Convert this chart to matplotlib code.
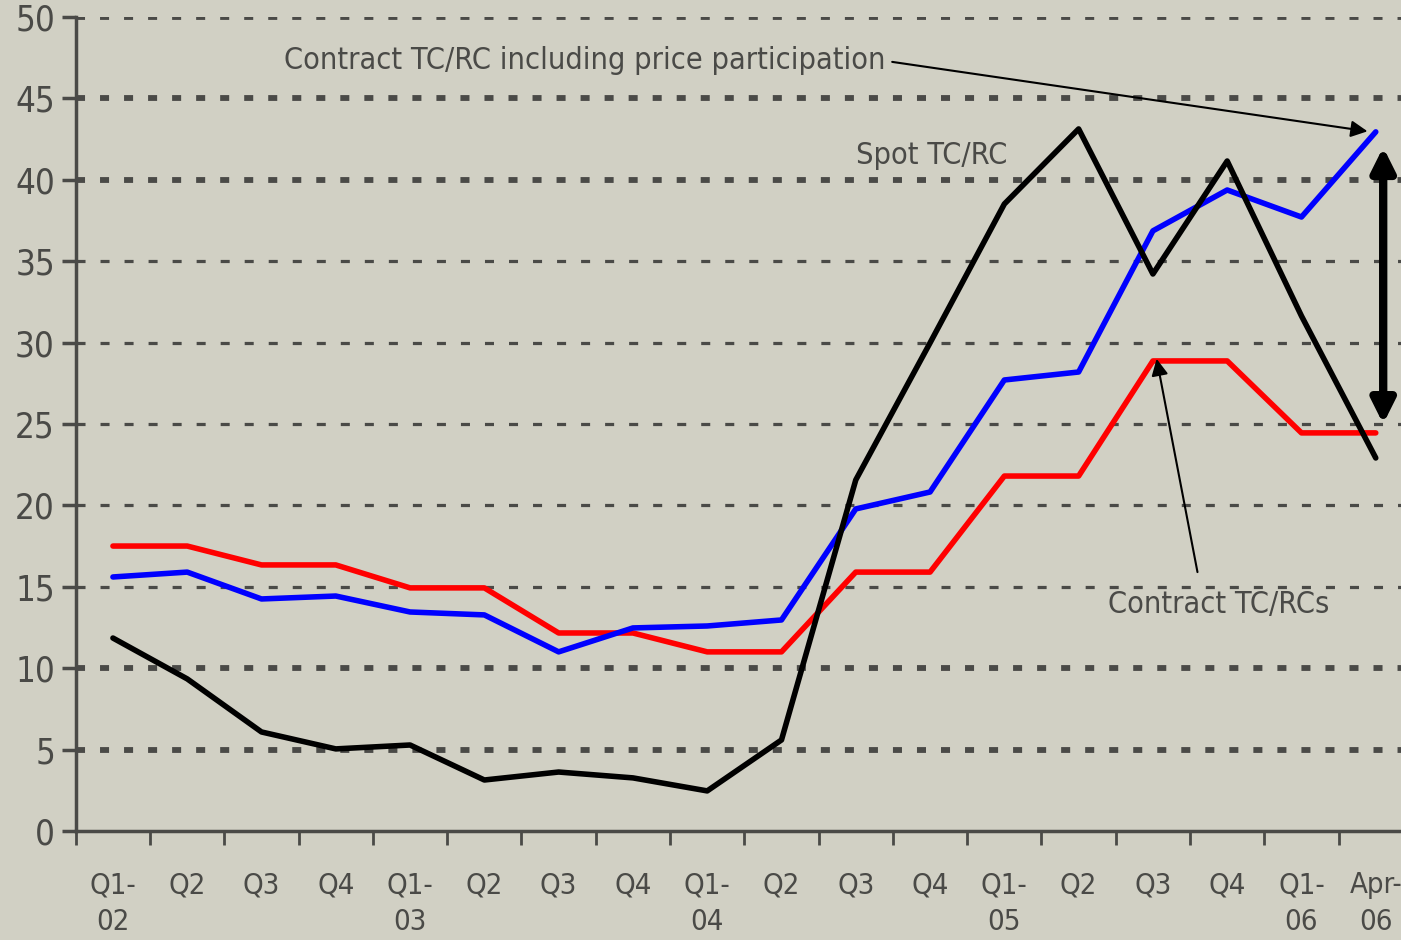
import matplotlib
matplotlib.use("Agg")
import matplotlib.pyplot as plt
from matplotlib.ticker import FixedLocator

plt.rcParams['font.family'] = ['DejaVu Sans']
plt.rcParams['font.stretch'] = 'condensed'
plt.rcParams['lines.scale_dashes'] = False

quarters = ["Q1-\n02", "Q2", "Q3", "Q4", "Q1-\n03", "Q2", "Q3", "Q4", "Q1-\n04",
            "Q2", "Q3", "Q4", "Q1-\n05", "Q2", "Q3", "Q4", "Q1-\n06", "Apr-\n06"]
spot = [11.85, 9.34, 6.08, 5.04, 5.28, 3.13, 3.62, 3.26, 2.46,
        5.59, 21.56, 29.98, 38.51, 43.12, 34.21, 41.15, 31.63, 22.91]
contract_pp = [15.6, 15.9, 14.25, 14.43, 13.45, 13.27, 11.0, 12.47, 12.59,
               12.96, 19.78, 20.82, 27.7, 28.19, 36.86, 39.37, 37.71, 42.94]
contract = [17.5, 17.5, 16.34, 16.34, 14.93, 14.93, 12.16, 12.16, 11.0,
            11.0, 15.9, 15.9, 21.8, 21.8, 28.87, 28.87, 24.45, 24.45]
dotted_levels = [5, 10, 40, 45, 50]
dashed_levels = [15, 20, 25, 30, 35]

bg = "#d1d0c4"
grey = "#4a4a47"

fig = plt.figure(figsize=(14.01, 9.40), dpi=100, facecolor=bg)
ax = fig.add_axes([0.0541, 0.116, 0.9544, 0.866], facecolor=bg)

x = list(range(len(quarters)))
for v in dotted_levels:
    ax.axhline(v, color=grey, lw=4.2, dashes=(6.5, 10.8), zorder=1)
for v in dashed_levels:
    ax.axhline(v, color=grey, lw=2.3, dashes=(6.5, 10.8), zorder=1)

ax.plot(x, contract, color="#ff0000", lw=4, solid_capstyle="round", zorder=3)
ax.plot(x, contract_pp, color="#0000ff", lw=4, solid_capstyle="round", zorder=3)
ax.plot(x, spot, color="#000000", lw=4, solid_capstyle="round", zorder=4)

ax.set_xlim(-0.5, 17.5)
ax.set_ylim(0, 50)
ax.set_yticks(range(0, 51, 5))
ax.xaxis.set_major_locator(FixedLocator(x))
ax.set_xticklabels(quarters, fontsize=21, color=grey, linespacing=1.4)
ax.xaxis.set_minor_locator(FixedLocator([i - 0.5 for i in range(19)]))
ax.tick_params(axis="x", which="major", length=0, pad=29)
ax.tick_params(axis="x", which="minor", length=10, width=2, color=grey, direction="out")
ax.tick_params(axis="y", length=10, width=2.5, color=grey, labelsize=25,
               labelcolor=grey, pad=5)

for s in ["top", "right"]:
    ax.spines[s].set_visible(False)
for s in ["left", "bottom"]:
    ax.spines[s].set_color(grey)
    ax.spines[s].set_linewidth(2.5)

txt = dict(fontsize=22, color=grey)
ax.annotate("Contract TC/RC including price participation", xy=(17, 42.9),
            xytext=(2.3, 47.3), va="center", ha="left",
            arrowprops=dict(arrowstyle="-|>", color="black", lw=1.5,
                            mutation_scale=25, shrinkA=3, shrinkB=6,
                            relpos=(1, 0.5)), **txt)
ax.text(10.0, 41.5, "Spot TC/RC", va="center", ha="left", **txt)
ax.annotate("Contract TC/RCs", xy=(14, 28.87), xytext=(13.4, 13.9),
            va="center", ha="left", **txt)
ax.annotate("", xy=(14.05, 29.0), xytext=(14.6, 15.9),
            arrowprops=dict(arrowstyle="-|>", color="black", lw=1.5,
                            mutation_scale=25, shrinkA=0, shrinkB=0))
ax.annotate("", xy=(17.1, 42.0), xytext=(17.1, 25.0),
            arrowprops=dict(arrowstyle="<|-|>", color="black", lw=6,
                            mutation_scale=35, shrinkA=0, shrinkB=0))

fig.savefig("out.png", dpi=100, facecolor=bg)
